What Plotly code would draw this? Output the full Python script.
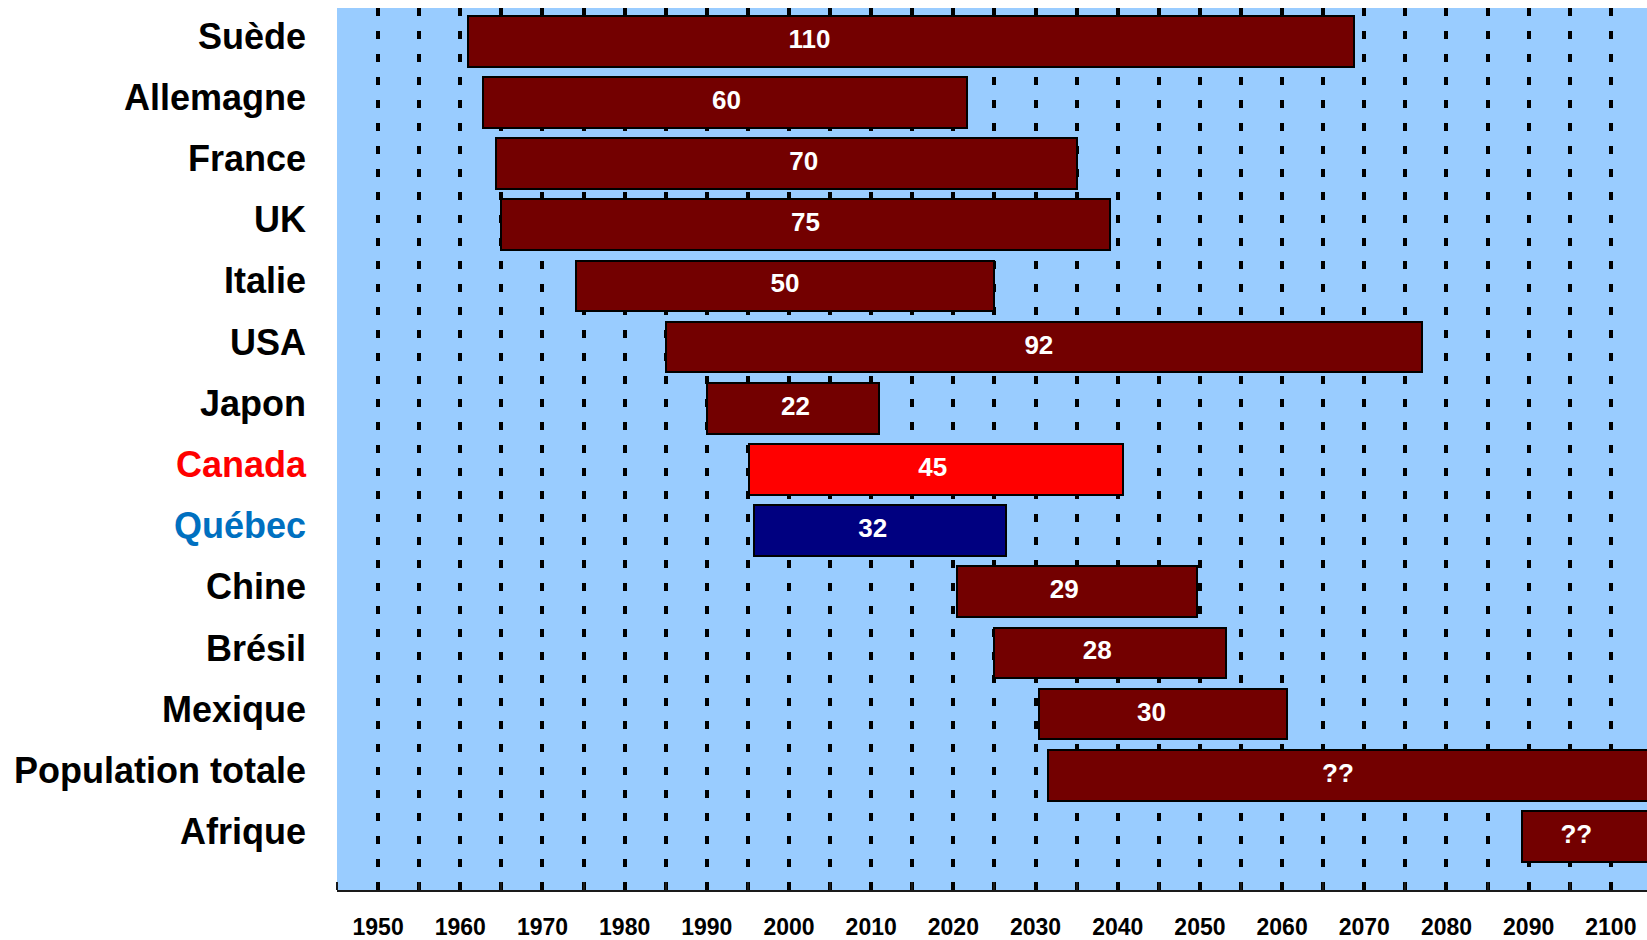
import plotly.graph_objects as go

countries = ["Suède", "Allemagne", "France", "UK", "Italie", "USA", "Japon",
             "Canada", "Québec", "Chine", "Brésil", "Mexique",
             "Population totale", "Afrique"]
start_year = [1960.9, 1962.8, 1964.3, 1965.0, 1974.1, 1985.0, 1990.0,
              1995.1, 1995.7, 2020.4, 2024.9, 2030.4, 2031.5, 2089.2]
end_year = [2068.8, 2021.6, 2035.0, 2039.1, 2025.0, 2077.0, 2011.0,
            2040.7, 2026.4, 2049.7, 2053.2, 2060.6, 2112.0, 2112.0]
duration_labels = ["110", "60", "70", "75", "50", "92", "22",
                   "45", "32", "29", "28", "30", "??", "??"]
label_year = [2002.5, 1992.4, 2001.8, 2002.0, 1999.5, 2030.4, 2000.8,
              2017.5, 2010.2, 2033.5, 2037.5, 2044.1, 2066.8, 2095.8]
decade_ticks = list(range(1950, 2101, 10))
decade_labels = [str(y) for y in decade_ticks]
half_decade_ticks = list(range(1945, 2100, 10))

DARK_RED = "#730000"
bar_colors = [DARK_RED] * len(countries)
bar_colors[countries.index("Canada")] = "#FF0000"
bar_colors[countries.index("Québec")] = "#000080"

label_colors = {"Canada": "#FF0000", "Québec": "#0070C0"}
tick_text = [f'<span style="color:{label_colors[c]}">{c}</span>' if c in label_colors else c
             for c in countries]

fig = go.Figure()
fig.add_trace(go.Bar(
    y=countries,
    x=[e - s for s, e in zip(start_year, end_year)],
    base=start_year,
    orientation="h",
    width=0.83,
    marker=dict(color=bar_colors, line=dict(color="black", width=2)),
    hoverinfo="skip",
))
fig.add_trace(go.Scatter(
    y=countries,
    x=label_year,
    text=duration_labels,
    mode="text",
    textposition="middle center",
    textfont=dict(family="Liberation Sans, Arial", size=26, color="white", weight="bold"),
    hoverinfo="skip",
))

grid_style = dict(showgrid=True, gridcolor="black", gridwidth=4, griddash="8px,15px")

fig.update_layout(
    width=1647, height=940,
    margin=dict(l=337, r=0, t=8, b=48),
    paper_bgcolor="white",
    plot_bgcolor="#99CCFF",
    showlegend=False,
    bargap=0,
    font=dict(family="Liberation Sans, Arial", color="black"),
    xaxis=dict(
        range=[1945, 2104.4],
        tickmode="array",
        tickvals=decade_ticks,
        ticktext=decade_labels,
        ticks="",
        tickfont=dict(family="Liberation Sans, Arial", size=23,
                      weight="bold", color="black"),
        ticklabelstandoff=15,
        showline=True, linecolor="#1a1a1a", linewidth=2,
        zeroline=False,
        minor=dict(tickmode="array", tickvals=half_decade_ticks, ticks="inside",
                   ticklen=8, tickwidth=2, tickcolor="#1a1a1a", **grid_style),
        **grid_style,
    ),
    yaxis=dict(
        type="category",
        categoryorder="array",
        categoryarray=countries,
        tickmode="array",
        tickvals=countries,
        ticktext=tick_text,
        range=[13.876, -0.543],
        showgrid=False,
        zeroline=False,
        showline=False,
        ticks="",
        ticklabelstandoff=30,
        ticklabelshift=5,
        tickfont=dict(family="Liberation Sans, Arial", size=36, weight="bold", color="black"),
    ),
)

fig.write_html("out.html", config={"displayModeBar": False},
               post_script="document.body.style.margin='0';document.body.style.overflow='hidden';")
